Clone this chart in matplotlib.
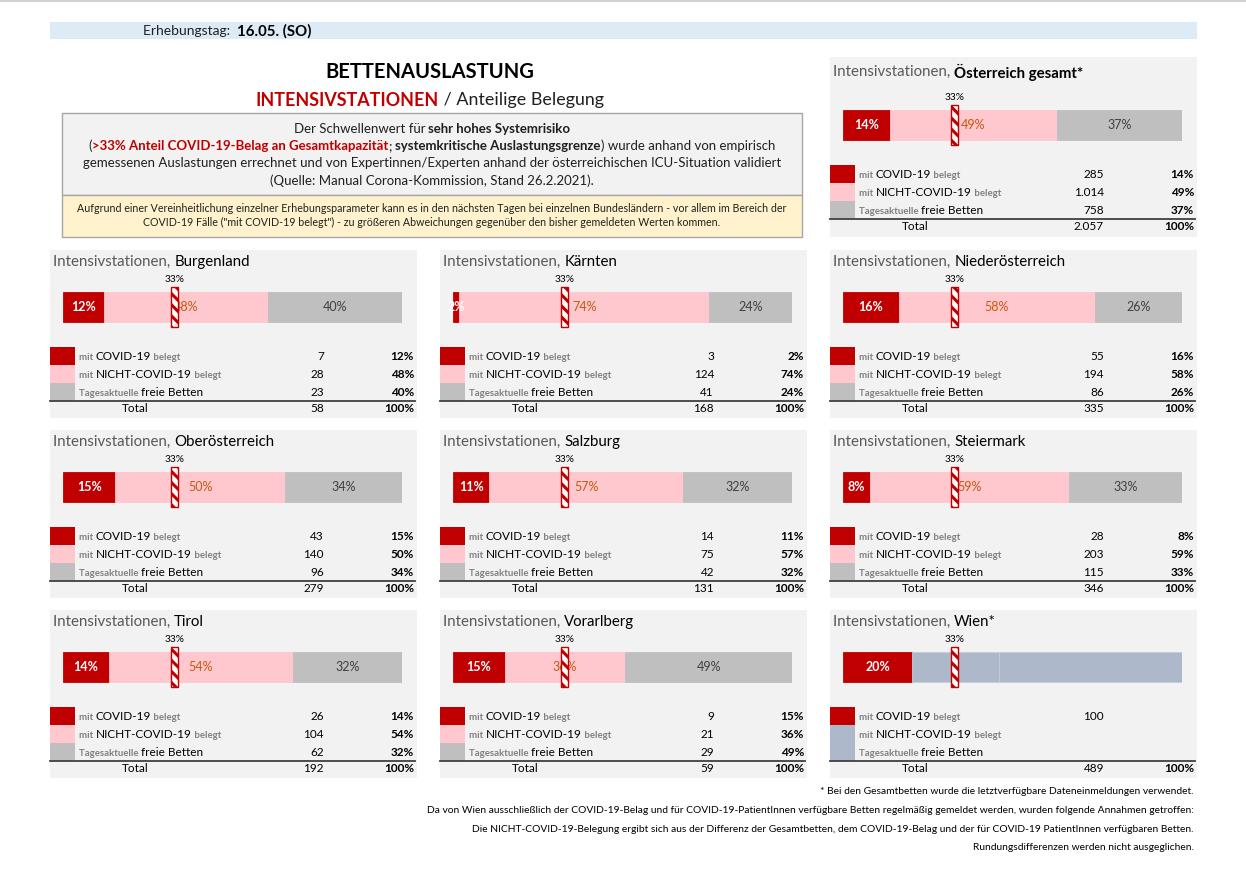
import numpy as np
import matplotlib
matplotlib.use("Agg")
import matplotlib.pyplot as plt
from matplotlib.patches import Rectangle

plt.rcParams['font.family'] = ['Lato', 'DejaVu Sans']
plt.rcParams['hatch.linewidth'] = 2.2

# ---- data ----
regions = ["Burgenland", "Kärnten", "Niederösterreich",
           "Oberösterreich", "Salzburg", "Steiermark",
           "Tirol", "Vorarlberg", "Wien*"]
covid = [7, 3, 55, 43, 14, 28, 26, 9, 100]
non_covid = [28, 124, 194, 140, 75, 203, 104, 21, None]
free_beds = [23, 41, 86, 96, 42, 115, 62, 29, None]
totals = [58, 168, 335, 279, 131, 346, 192, 59, 489]
pct_covid = [12, 2, 16, 15, 11, 8, 14, 15, 20]
pct_non = [48, 74, 58, 50, 57, 59, 54, 36, None]
pct_free = [40, 24, 26, 34, 32, 33, 32, 49, None]
# Wien: split of the unlabelled rest
wien_rest = [125, 264]

at_name = "Österreich gesamt*"
at_values = [285, 1014, 758]
at_total = 2057
at_pct = [14, 49, 37]

threshold = 0.33

C_RED = "#C00000"
C_PINK = "#FFC7CE"
C_GRAY = "#BFBFBF"
C_BLUE = "#ADB9CA"
C_ORANGE = "#C65911"
C_PANEL = "#F2F2F2"
C_MUTED = "#808080"

W, H = 1246, 880
fig = plt.figure(figsize=(W / 100, H / 100), dpi=100)
base = fig.add_axes([0, 0, 1, 1])
base.set_xlim(0, W)
base.set_ylim(H, 0)
base.axis("off")
renderer = fig.canvas.get_renderer()


def fmt(n):
    return "" if n is None else f"{n:,}".replace(",", ".")


def rich(x, y, pieces, ha="left", va="center"):
    # draw text pieces one after another on a line
    widths = []
    for txt, kw in pieces:
        t = base.text(0, 0, txt, **kw)
        bb = t.get_window_extent(renderer)
        widths.append(bb.width)
        t.remove()
    total = sum(widths)
    if ha == "center":
        x = x - total / 2
    elif ha == "right":
        x = x - total
    for (txt, kw), w in zip(pieces, widths):
        base.text(x, y, txt, ha="left", va=va, **kw)
        x += w


# top rule and header band
base.plot([0, W], [1, 1], color="#D0D0D0", lw=1.5)
base.add_patch(Rectangle((50, 22), 1147, 17, color="#DDEBF7", lw=0))
rich(143, 31, [("Erhebungstag:  ", dict(fontsize=10, color="#202020")),
               ("16.05. (SO)", dict(fontsize=10.8, weight="bold", color="black"))])

# titles
base.text(430, 72, "BETTENAUSLASTUNG", ha="center", va="center",
          fontsize=14.5, weight="bold", color="black")
rich(430, 100, [("INTENSIVSTATIONEN", dict(fontsize=12.9, weight="bold", color=C_RED)),
                (" / Anteilige Belegung", dict(fontsize=12.9, color="#202020"))],
     ha="center")

# info boxes
base.add_patch(Rectangle((62, 113), 740, 82, facecolor=C_PANEL,
                         edgecolor="#A6A6A6", lw=1))
base.add_patch(Rectangle((62, 195), 740, 42, facecolor="#FFF2CC",
                         edgecolor="#A6A6A6", lw=1))
fs = 9.5
n = dict(fontsize=fs, color="#202020")
b = dict(fontsize=fs, color="#202020", weight="bold")
r = dict(fontsize=fs, color=C_RED, weight="bold")
rich(432, 129, [("Der Schwellenwert für ", n), ("sehr hohes Systemrisiko", b)], ha="center")
rich(432, 146, [("(", n), (">33% Anteil COVID-19-Belag an Gesamtkapazität", r),
                ("; ", n), ("systemkritische Auslastungsgrenze", b),
                (") wurde anhand von empirisch", n)], ha="center")
base.text(432, 163, "gemessenen Auslastungen errechnet und von Expertinnen/Experten anhand "
          "der österreichischen ICU-Situation validiert", ha="center", va="center", **n)
base.text(432, 181, "(Quelle: Manual Corona-Kommission, Stand 26.2.2021).",
          ha="center", va="center", **n)
base.text(432, 208, "Aufgrund einer Vereinheitlichung einzelner Erhebungsparameter kann es in den "
          "nächsten Tagen bei einzelnen Bundesländern - vor allem im Bereich der",
          ha="center", va="center", fontsize=7.7, color="#202020")
base.text(432, 222, "COVID-19 Fälle (\"mit COVID-19 belegt\") - zu größeren Abweichungen "
          "gegenüber den bisher gemeldeten Werten kommen.",
          ha="center", va="center", fontsize=7.7, color="#202020")


def panel(px, py, name, vals, total, pcts, bold_name=False, wien=None,
          title_dy=12, bar_dy=42, rows_dy=106, height=168):
    pw = 367
    base.add_patch(Rectangle((px, py), pw, height, color=C_PANEL, lw=0, zorder=0))
    rich(px + 3, py + title_dy,
         [("Intensivstationen, ", dict(fontsize=10.8, color="#595959")),
          (name, dict(fontsize=10.8, color="black",
                      weight="bold" if bold_name else "normal"))])

    # bar
    bx0, bx1, bh = px + 13, px + 352, 30
    ax = fig.add_axes([bx0 / W, 1 - (py + bar_dy + bh + 7) / H,
                       (bx1 - bx0) / W, (bh + 29) / H])
    ax.set_xlim(0, 1)
    ax.set_ylim(bh + 7, -22)
    ax.axis("off")
    if wien is None:
        segs = np.array(vals, dtype=float) / total
        colors = [C_RED, C_PINK, C_GRAY]
        edges = colors
        lab_col = ["white", C_ORANGE, "#404040"]
        lab_w = ["bold", "normal", "normal"]
        labels = [f"{p}%" for p in pcts]
        tab_pcts = pcts
    else:
        segs = np.array([vals[0]] + wien, dtype=float) / total
        colors = [C_RED, C_BLUE, C_BLUE]
        edges = [C_RED, "#C4CDD9", "#C4CDD9"]
        lab_col = ["white", None, None]
        lab_w = ["bold", None, None]
        labels = [f"{pcts[0]}%", None, None]
        tab_pcts = [None, None, None]
    lefts = np.concatenate([[0], np.cumsum(segs)[:-1]])
    ax.barh(bh / 2, segs, left=lefts, height=bh, color=colors,
            edgecolor=edges, lw=0.6)
    for l, s, lab, c, w in zip(lefts, segs, labels, lab_col, lab_w):
        if lab:
            ax.text(l + s / 2, bh / 2, lab, ha="center", va="center",
                    fontsize=9, color=c, weight=w)
    ax.add_patch(Rectangle((threshold - 0.01, -5), 0.02, bh + 10,
                           facecolor="white", edgecolor=C_RED, hatch="\\\\\\",
                           lw=1, zorder=5))
    ax.text(threshold, -13, f"{threshold:.0%}", ha="center", va="center",
            fontsize=7.3, color="black")

    # table
    row_y = [py + rows_dy, py + rows_dy + 18, py + rows_dy + 36]
    lab_rows = [[("mit ", dict(fontsize=6.9, color=C_MUTED, weight="bold")),
                 ("COVID-19", dict(fontsize=8.5, color="black")),
                 (" belegt", dict(fontsize=6.9, color=C_MUTED, weight="bold"))],
                [("mit ", dict(fontsize=6.9, color=C_MUTED, weight="bold")),
                 ("NICHT-COVID-19", dict(fontsize=8.5, color="black")),
                 (" belegt", dict(fontsize=6.9, color=C_MUTED, weight="bold"))],
                [("Tagesaktuelle ", dict(fontsize=6.9, color=C_MUTED, weight="bold")),
                 ("freie Betten", dict(fontsize=8.5, color="black"))]]
    for i, y in enumerate(row_y):
        base.add_patch(Rectangle((px, y - 9), 25, 18, color=colors[i], lw=0))
        rich(px + 29, y + 1, lab_rows[i])
        base.text(px + 274, y + 1, fmt(vals[i]), ha="right", va="center",
                  fontsize=8.5, color="black")
        if tab_pcts[i] is not None:
            base.text(px + 364, y + 1, f"{tab_pcts[i]}%", ha="right", va="center",
                      fontsize=8.5, color="black", weight="bold")
    ly = row_y[2] + 9
    base.plot([px, px + pw - 2], [ly, ly], color="#404040", lw=1.3)
    ty = row_y[2] + 17
    base.text(px + 85, ty, "Total", ha="center", va="center", fontsize=8.5, color="black")
    base.text(px + 274, ty, fmt(total), ha="right", va="center", fontsize=8.5, color="black")
    base.text(px + 364, ty, "100%", ha="right", va="center", fontsize=8.5,
              color="black", weight="bold")


panel(830, 57, at_name, at_values, at_total, at_pct, bold_name=True,
      title_dy=15, bar_dy=53, rows_dy=117, height=180)

col_x = [50, 440, 830]
row_top = [250, 430, 610]
for k, name in enumerate(regions):
    px = col_x[k % 3]
    py = row_top[k // 3]
    vals = [covid[k], non_covid[k], free_beds[k]]
    pcts = [pct_covid[k], pct_non[k], pct_free[k]]
    panel(px, py, name, vals, totals[k], pcts,
          wien=wien_rest if name.startswith("Wien") else None)

notes = ["* Bei den Gesamtbetten wurde die letztverfügbare Dateneinmeldungen verwendet.",
         "Da von Wien ausschließlich der COVID-19-Belag und für COVID-19-PatientInnen verfügbare "
         "Betten regelmäßig gemeldet werden, wurden folgende Annahmen getroffen:",
         "Die NICHT-COVID-19-Belegung ergibt sich aus der Differenz der Gesamtbetten, dem "
         "COVID-19-Belag und der für COVID-19 PatientInnen verfügbaren Betten.",
         "Rundungsdifferenzen werden nicht ausgeglichen."]
for i, t in enumerate(notes):
    base.text(1194, 792 + i * 18.5, t, ha="right", va="center", fontsize=7.4, color="black")

fig.savefig("out.png", dpi=100)
